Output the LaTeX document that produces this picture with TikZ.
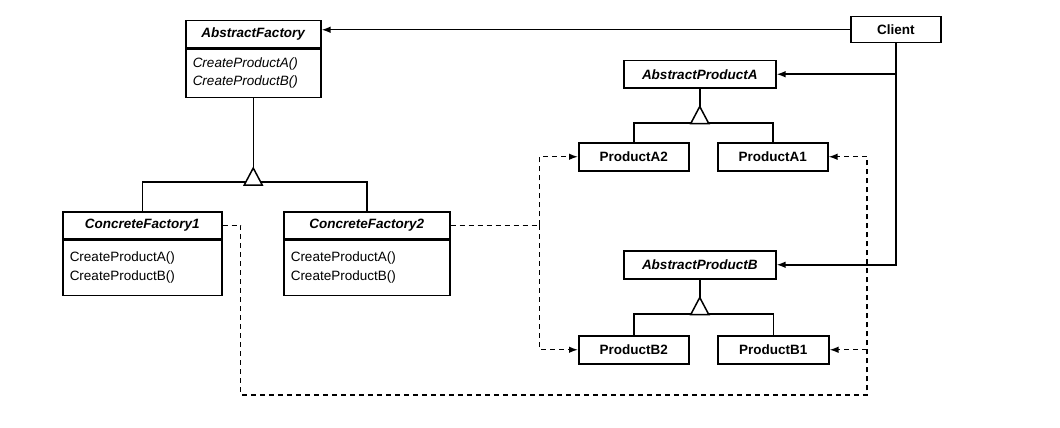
\documentclass[tikz,border=0pt]{standalone}
\usepackage{fontspec}
\setmainfont{Liberation Sans}
\usetikzlibrary{arrows.meta,calc}
\begin{document}
\begin{tikzpicture}[x=1pt,y=-1pt,
  box/.style={draw,line width=1.5pt,inner sep=0pt,anchor=north west,
    font=\fontsize{13.5}{18}\selectfont\bfseries},
  hdr/.style={box,font=\fontsize{13.5}{18}\selectfont\bfseries\itshape},
  body/.style={draw,line width=1.5pt,inner ysep=0pt,inner xsep=7pt,anchor=north west,
    align=left,font=\fontsize{13.5}{18.5}\selectfont},
  link/.style={line width=1.5pt},
  dep/.style={line width=1.4pt,dash pattern=on 5pt off 4pt},
  arr/.style={-{Latex[length=9pt,width=6.5pt]}},
  gen/.style={line width=1.5pt,fill=white,line join=miter}
]
\useasboundingbox (0,0) rectangle (1060,428);

% classes
\node[hdr,minimum width=135,minimum height=27] (AF) at (185,20) {AbstractFactory};
\node[body,text width=121,minimum height=48] (AFb) at (AF.south west)
  {\itshape CreateProductA()\\\itshape CreateProductB()};

\node[hdr,minimum width=159,minimum height=27] (CF1) at (62,211) {ConcreteFactory1};
\node[body,text width=145,minimum height=55] (CF1b) at (CF1.south west)
  {CreateProductA()\\CreateProductB()};

\node[hdr,minimum width=166,minimum height=27] (CF2) at (283,211) {ConcreteFactory2};
\node[body,text width=152,minimum height=55] (CF2b) at (CF2.south west)
  {CreateProductA()\\CreateProductB()};

\node[box,minimum width=90,minimum height=26] (Client) at (850,16) {Client};

\node[hdr,minimum width=152,minimum height=27] (APA) at (623,60) {AbstractProductA};
\node[box,minimum width=110,minimum height=28] (PA2) at (578,142) {ProductA2};
\node[box,minimum width=110,minimum height=28] (PA1) at (717,142) {ProductA1};

\node[hdr,minimum width=152,minimum height=28] (APB) at (623,250) {AbstractProductB};
\node[box,minimum width=110,minimum height=28] (PB2) at (578,335) {ProductB2};
\node[box,minimum width=111,minimum height=28] (PB1) at (717,335) {ProductB1};

% client associations
\draw[link,arr] (Client.west) -- (Client.west -| AF.east);
\draw[link,arr] (Client.south) |- (APB.east);
\draw[link,arr] (Client.south |- APA.east) -- (APA.east);

% generalization: factories
\coordinate (gf) at ($(AFb.south)+(0,70)$);
\draw[link] (AFb.south) -- (gf);
\draw[link] (CF1.north) -- ++(0,-29) -| (CF2.north);
\draw[gen] (gf) -- ++(-9,17) -- ++(18,0) -- cycle;

% generalization: products A
\coordinate (ga) at ($(APA.south)+(0,18)$);
\draw[link] (APA.south) -- (ga);
\draw[link] (PA2.north) -- ++(0,-19) -| (PA1.north);
\draw[gen] (ga) -- ++(-9,17) -- ++(18,0) -- cycle;

% generalization: products B
\coordinate (gb) at ($(APB.south)+(0,18)$);
\draw[link] (APB.south) -- (gb);
\draw[link] (PB2.north) -- ++(0,-21) -| (PB1.north);
\draw[gen] (gb) -- ++(-9,17) -- ++(18,0) -- cycle;

% instantiation (dashed)
\draw[dep] (CF2.east) -- ++(89,0) coordinate (cj);
\draw[dep,arr] (cj) |- (PA2.west);
\draw[dep,arr] (cj) |- (PB2.west);

\coordinate (br) at (867,395);
\draw[dep,arr] (CF1.east) -- ++(18,0) |- (br) |- (PA1.east);
\draw[dep,arr] (br |- PB1.east) -- (PB1.east);
\end{tikzpicture}
\end{document}
